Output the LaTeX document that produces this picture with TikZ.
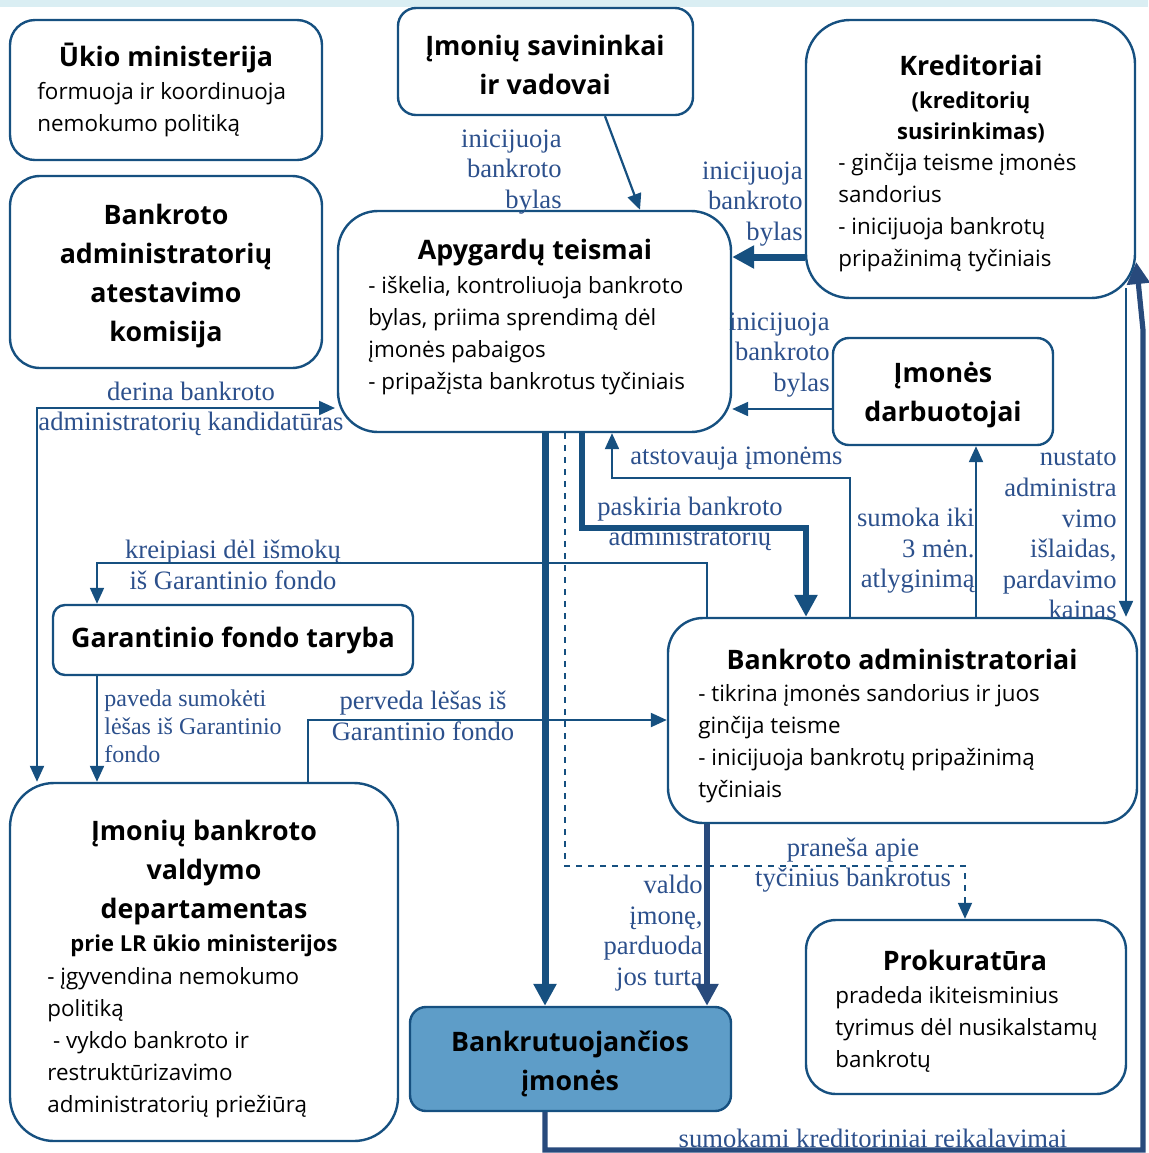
\documentclass[tikz,border=0pt]{standalone}
\usepackage{fontspec}
\setmainfont{Liberation Serif}
\setsansfont{Open Sans}
\usetikzlibrary{arrows.meta}

\definecolor{lineblue}{RGB}{22,80,128}
\definecolor{darkline}{RGB}{40,74,124}
\definecolor{labelblue}{RGB}{44,80,140}
\definecolor{firmfill}{RGB}{94,157,200}
\definecolor{topstrip}{RGB}{218,238,243}

\begin{document}
\begin{tikzpicture}[
    x=0.5pt, y=-0.5pt,
    box/.style={draw=lineblue, line width=1.2pt, fill=white, inner sep=0pt},
    title/.style={font=\sffamily\bfseries\fontsize{13.4}{19.5}\selectfont, align=center, inner sep=0pt},
    subtitle/.style={font=\sffamily\bfseries\fontsize{11}{15.5}\selectfont, align=center, inner sep=0pt},
    body/.style={font=\sffamily\fontsize{11.2}{16}\selectfont, align=left, inner sep=0pt},
    lbl/.style={font=\fontsize{13.3}{15.3}\selectfont, text=labelblue, inner sep=0pt},
    thin/.style={draw=lineblue, line width=1.1pt, -{Triangle[length=8pt,width=7pt]}},
    thick/.style={draw=lineblue, line width=3.5pt, -{Triangle[length=11pt,width=11pt]}}
]
\useasboundingbox (0,0) rectangle (1148,1153);
\fill[topstrip] (0,0) rectangle (1148,7);

% ---------- boxes ----------
\node[box, rounded corners=12.5pt, minimum width=156pt, minimum height=70pt] (ukio) at (166,90) {};
\node[box, rounded corners=15pt, minimum width=156pt, minimum height=96pt] (atest) at (166,272) {};
\node[box, rounded corners=9pt, minimum width=147.5pt, minimum height=53.5pt] (sav) at (545.5,61.5) {};
\node[box, rounded corners=22pt, minimum width=164.5pt, minimum height=139pt] (kred) at (970.5,159) {};
\node[box, rounded corners=20pt, minimum width=196.5pt, minimum height=110.5pt] (apy) at (534.5,321.5) {};
\node[box, rounded corners=8pt, minimum width=110pt, minimum height=53.5pt] (darb) at (943,391.5) {};
\node[box, rounded corners=6pt, minimum width=180pt, minimum height=35pt] (gar) at (233,640) {};
\node[box, rounded corners=17.5pt, minimum width=234.5pt, minimum height=102.5pt] (badm) at (902.5,720.5) {};
\node[box, rounded corners=22pt, minimum width=194pt, minimum height=179pt] (dep) at (204,962) {};
\node[box, fill=firmfill, rounded corners=8pt, minimum width=160.5pt, minimum height=52pt] (bank) at (570.5,1059) {};
\node[box, rounded corners=15pt, minimum width=160pt, minimum height=87pt] (prok) at (966,1007) {};

% ---------- box texts ----------
\node[title] (ukio-t) at (166,58) {Ūkio ministerija};
\node[body, anchor=west] (ukio-b) at (37,110) {formuoja ir koordinuoja\\nemokumo politiką};
\node[title] (atest-t) at (166,276) {Bankroto\\administratorių\\atestavimo\\komisija};
\node[title] (sav-t) at (545,65) {Įmonių savininkai\\ir vadovai};
\node[title] (kred-t) at (971,65) {Kreditoriai};
\node[subtitle] (kred-s) at (971,117) {(kreditorių\\susirinkimas)};
\node[body, anchor=west] (kred-b) at (838,213) {- ginčija teisme įmonės\\sandorius\\- inicijuoja bankrotų\\pripažinimą tyčiniais};
\node[title] (apy-t) at (535,253) {Apygardų teismai};
\node[body, anchor=west] (apy-b) at (368,336) {- iškelia, kontroliuoja bankroto\\bylas, priima sprendimą dėl\\įmonės pabaigos\\- pripažįsta bankrotus tyčiniais};
\node[title] (darb-t) at (943,395) {Įmonės\\darbuotojai};
\node[title] (gar-t) at (233,640) {Garantinio fondo taryba};
\node[title] (badm-t) at (902,659) {Bankroto administratoriai};
\node[body, anchor=west] (badm-b) at (698,744) {- tikrina įmonės sandorius ir juos\\ginčija teisme\\- inicijuoja bankrotų pripažinimą\\tyčiniais};
\node[title] (dep-t) at (204,873) {Įmonių bankroto\\valdymo\\departamentas};
\node[subtitle] (dep-s) at (204,946) {prie LR ūkio ministerijos};
\node[body, anchor=west] (dep-b) at (47,1043) {- įgyvendina nemokumo\\politiką\\\ - vykdo bankroto ir\\restruktūrizavimo\\administratorių priežiūrą};
\node[title] (bank-t) at (570,1064) {Bankrutuojančios\\įmonės};
\node[title] (prok-t) at (965,960) {Prokuratūra};
\node[body, anchor=west] (prok-b) at (835,1029) {pradeda ikiteisminius\\tyrimus dėl nusikalstamų\\bankrotų};

% ---------- connector labels ----------
\node[lbl, align=right, anchor=east] (l-sav) at (562,172) {inicijuoja\\bankroto\\bylas};
\node[lbl, align=right, anchor=east] (l-kred) at (803,204) {inicijuoja\\bankroto\\bylas};
\node[lbl, align=right, anchor=east] (l-darb) at (830,355) {inicijuoja\\bankroto\\bylas};
\node[lbl, align=center] (l-derina) at (191,409) {derina bankroto\\administratorių kandidatūras};
\node[lbl, anchor=west] (l-atst) at (630,459) {atstovauja įmonėms};
\node[lbl, align=center] (l-pask) at (690,524) {paskiria bankroto\\administratorių};
\node[lbl, align=center] (l-kreip) at (233,565) {kreipiasi dėl išmokų\\iš Garantinio fondo};
\node[lbl, align=right, anchor=east] (l-sumoka) at (975,551) {sumoka iki\\3 mėn.\\atlyginimą};
\node[lbl, align=right, anchor=east] (l-nust) at (1117,535) {nustato\\administra\\vimo\\išlaidas,\\pardavimo\\kainas};
\node[lbl, align=left, anchor=west, font=\fontsize{12}{14}\selectfont] (l-paveda) at (104,726) {paveda sumokėti\\lėšas iš Garantinio\\fondo};
\node[lbl, align=center] (l-perv) at (423,716) {perveda lėšas iš\\Garantinio fondo};
\node[lbl, align=right, anchor=east] (l-valdo) at (703,933) {valdo\\įmonę,\\parduoda\\jos turtą};
\node[lbl, align=center] (l-pran) at (853,865) {praneša apie\\tyčinius bankrotus};
\node[lbl] (l-sumok) at (873,1138) {sumokami kreditoriniai reikalavimai};

% ---------- connectors ----------
\draw[thin] (sav.south -| 605,0) -- (apy.north -| 640,0);
\draw[thick] (kred.west |- 0,257) -- (apy.east |- 0,257);
\draw[thin] (darb.west |- 0,409) -- (apy.east |- 0,409);
\draw[thin, {Triangle[length=8pt,width=7pt]}-{Triangle[length=8pt,width=7pt]}] (dep.north -| 37,0) -- (37,408) -- (335,408);
\draw[thick] (apy.south -| 545,0) -- (bank.north -| 545,0);
\draw[thin, dashed, line width=0.9pt] (apy.south -| 565,0) -- (565,866) -- (965,866) -- (prok.north -| 965,0);
\draw[thick, line width=3pt] (apy.south -| 582,0) -- (582,528) -- (806,528) -- (badm.north -| 806,0);
\draw[thin] (badm.north -| 850,0) -- (850,478) -- (612,478) -- (apy.south -| 612,0);
\draw[thin, line width=0.9pt] (badm.north -| 707,0) -- (707,563) -- (97,563) -- (gar.north -| 97,0);
\draw[thin] (badm.north -| 976,0) -- (darb.south -| 976,0);
\draw[thin] (1126,288) -- (badm.north -| 1126,0);
\draw[thin] (gar.south -| 97,0) -- (dep.north -| 97,0);
\draw[thin] (dep.north -| 308,0) -- (308,720) -- (badm.west |- 0,720);
\draw[thick, draw=darkline, line width=3pt] (badm.south -| 707,0) -- (bank.north -| 707,0);
\draw[thick, draw=darkline, line width=2.6pt] (bank.south -| 545,0) -- (545,1150) -- (1143,1150) -- (1143,330) -- (kred.east |- 0,262);

\end{tikzpicture}
\end{document}
